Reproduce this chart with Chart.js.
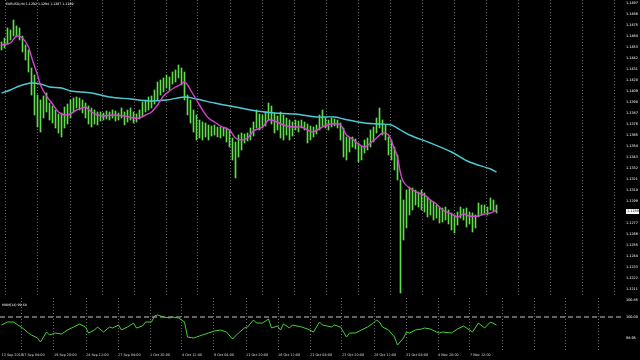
<!DOCTYPE html>
<html><head><meta charset="utf-8">
<script src="https://cdn.jsdelivr.net/npm/chart.js@4.4.0/dist/chart.umd.min.js"></script>
<style>
html,body{margin:0;padding:0;background:#000;width:640px;height:360px;overflow:hidden}
canvas{position:absolute;left:0}
#c1{top:0}
#c2{top:296px}
.lbl{position:absolute;color:#fff;font-family:"DejaVu Sans";line-height:4px;white-space:nowrap}
</style></head><body>
<canvas id="c1" width="640" height="296"></canvas>
<canvas id="c2" width="640" height="64"></canvas>
<div class="lbl" style="left:6px;top:2px;font-size:3.2px">EURUSD,H4 1.1292 1.1294 1.1287 1.1289</div>
<div class="lbl" style="left:2px;top:303px;font-size:3.2px">MOM(14) 99.60</div>
<script>
// ---- data ----
const highs = [1.1458,1.1462,1.1472,1.1470,1.1480,1.1474,1.1472,1.1464,1.1455,1.1450,
1.1432,1.1425,1.1405,1.1400,1.1404,1.1407,1.1397,1.1394,1.1390,1.1386,
1.1387,1.1393,1.1396,1.1400,1.1402,1.1403,1.1402,1.1400,1.1397,1.1394,
1.1392,1.1390,1.1388,1.1388,1.1387,1.1389,1.1388,1.1390,1.1389,1.1387,
1.1392,1.1388,1.1390,1.1392,1.1388,1.1386,1.1390,1.1398,1.1400,1.1403,
1.1404,1.1410,1.1418,1.1420,1.1422,1.1425,1.1423,1.1428,1.1430,1.1435,
1.1432,1.1428,1.1405,1.1400,1.1390,1.1385,1.1380,1.1378,1.1377,1.1375,
1.1374,1.1375,1.1373,1.1373,1.1372,1.1372,1.1370,1.1362,1.1358,1.1365,
1.1367,1.1366,1.1367,1.1372,1.1378,1.1390,1.1386,1.1385,1.1388,1.1397,
1.1394,1.1387,1.1384,1.1388,1.1385,1.1382,1.1380,1.1378,1.1380,1.1379,
1.1380,1.1378,1.1376,1.1374,1.1373,1.1375,1.1385,1.1390,1.1382,1.1380,
1.1382,1.1381,1.1380,1.1377,1.1372,1.1363,1.1362,1.1363,1.1361,1.1357,
1.1354,1.1360,1.1362,1.1370,1.1373,1.1382,1.1392,1.1380,1.1375,1.1363,
1.1360,1.1353,1.1345,1.1320,1.1300,1.1310,1.1313,1.1312,1.1310,1.1308,
1.1310,1.1307,1.1303,1.1300,1.1298,1.1295,1.1293,1.1292,1.1293,1.1290,
1.1287,1.1285,1.1288,1.1293,1.1291,1.1292,1.1288,1.1287,1.1285,1.1297,
1.1295,1.1295,1.1293,1.1302,1.1300,1.1295];
const lows = [1.1450,1.1452,1.1456,1.1460,1.1464,1.1463,1.1460,1.1448,1.1440,1.1428,
1.1405,1.1385,1.1373,1.1368,1.1382,1.1388,1.1380,1.1377,1.1372,1.1367,
1.1363,1.1372,1.1376,1.1382,1.1388,1.1392,1.1390,1.1387,1.1382,1.1376,
1.1373,1.1376,1.1375,1.1379,1.1380,1.1381,1.1380,1.1382,1.1379,1.1380,
1.1382,1.1375,1.1378,1.1380,1.1377,1.1378,1.1381,1.1383,1.1388,1.1390,
1.1392,1.1396,1.1400,1.1405,1.1408,1.1412,1.1410,1.1416,1.1418,1.1422,
1.1415,1.1400,1.1385,1.1377,1.1368,1.1360,1.1362,1.1360,1.1363,1.1360,
1.1364,1.1365,1.1363,1.1362,1.1364,1.1358,1.1353,1.1340,1.1322,1.1343,
1.1350,1.1357,1.1359,1.1360,1.1364,1.1372,1.1370,1.1372,1.1374,1.1380,
1.1376,1.1367,1.1370,1.1362,1.1360,1.1365,1.1360,1.1364,1.1370,1.1368,
1.1372,1.1370,1.1357,1.1360,1.1363,1.1366,1.1370,1.1374,1.1372,1.1370,
1.1373,1.1374,1.1372,1.1360,1.1343,1.1340,1.1348,1.1353,1.1351,1.1338,
1.1340,1.1347,1.1350,1.1353,1.1358,1.1367,1.1372,1.1365,1.1360,1.1345,
1.1340,1.1330,1.1320,1.1207,1.1260,1.1272,1.1285,1.1290,1.1295,1.1293,
1.1290,1.1288,1.1283,1.1285,1.1280,1.1282,1.1277,1.1278,1.1280,1.1276,
1.1270,1.1267,1.1275,1.1282,1.1280,1.1273,1.1276,1.1268,1.1272,1.1283,
1.1285,1.1287,1.1285,1.1290,1.1288,1.1287];

const magentaIdx = [0,3,5,7,9,10,12,13,15,17,19,21,23,25,27,28,30,32,34,37,41,44,46,48,50,52,54,56,58,60,61,62,63,65,67,69,71,73,76,78,80,82,84,87,89,91,94,97,100,102,104,107,110,113,115,117,119,121,123,125,127,129,131,132,133,134,136,139,141,143,145,147,150,152,154,156,159,161,163,165];
const magentaVal = [1.1455,1.1457,1.1464,1.1462,1.1453,1.1443,1.1425,1.1415,1.1404,1.1396,
1.1388,1.1385,1.1386,1.1390,1.1392,1.1393,1.1388,1.1385,1.1384,1.1385,
1.1384,1.1382,1.1382,1.1385,1.1388,1.1395,1.1404,1.1409,1.1413,1.1416,
1.1418,1.1415,1.1410,1.1400,1.1390,1.1382,1.1378,1.1374,1.1370,1.1362,
1.1360,1.1362,1.1369,1.1373,1.1380,1.1379,1.1375,1.1373,1.1373,1.1370,
1.1368,1.1373,1.1376,1.1375,1.1365,1.1361,1.1356,1.1353,1.1357,1.1362,
1.1367,1.1365,1.1351,1.1343,1.1327,1.1318,1.1312,1.1307,1.1305,1.1300,
1.1296,1.1290,1.1286,1.1283,1.1286,1.1284,1.1284,1.1286,1.1287,1.1290];

const cyanIdx = [0,3,6,10,13,16,20,23,30,36,43,49,55,61,65,71,78,85,91,98,105,111,114,121,126,130,133,136,143,150,156,163,165];
const cyanVal = [1.1407,1.1410,1.1414,1.1417,1.1416,1.1413,1.1412,1.1409,1.1407,1.1403,
1.1401,1.1399,1.1400,1.1403,1.1401,1.1397,1.1393,1.1389,1.1387,1.1386,
1.1383,1.1383,1.1381,1.1377,1.1376,1.1375,1.1370,1.1365,1.1357,1.1348,
1.1338,1.1331,1.1328];

const oscIdx = [0,2,4,5,7,9,10,12,13,15,16,18,20,22,24,26,28,29,31,32,34,36,37,39,40,42,44,45,47,48,50,51,52,54,56,57,59,61,62,64,65,67,69,71,73,75,77,79,81,82,84,85,87,89,90,92,93,94,96,97,100,102,104,106,107,110,111,113,115,116,118,120,122,124,125,126,127,129,131,132,134,135,136,138,140,141,143,145,146,147,150,151,152,154,156,157,159,161,163,165];
const oscVal = [99.60,99.75,99.75,99.65,99.45,99.20,99.10,98.95,98.75,99.25,
99.10,99.20,99.15,99.35,99.50,99.65,99.50,99.20,99.35,99.50,
99.25,99.50,99.45,99.60,99.35,99.50,99.70,99.45,99.55,99.75,
99.75,100.05,100.10,100.00,99.95,100.00,99.95,99.75,99.00,98.95,
99.00,99.10,99.20,99.30,99.35,99.25,98.90,99.20,99.45,99.50,
99.85,99.70,99.70,99.90,99.45,99.55,99.35,99.65,99.45,99.60,
99.50,99.40,99.25,99.75,99.60,99.50,99.60,99.50,99.00,99.20,
99.20,99.35,99.50,99.70,99.85,99.75,99.50,99.35,99.00,98.60,
98.95,99.25,99.20,99.35,99.40,99.45,99.40,99.25,99.20,99.25,
99.20,99.30,99.40,99.55,99.35,99.25,99.70,99.45,99.75,99.60];
const oscLevel = 100.00;

const priceTicks = [1.1497,1.1486,1.1475,1.1464,1.1453,1.1442,1.1431,1.1420,1.1409,1.1398,
1.1387,1.1376,1.1365,1.1354,1.1343,1.1332,1.1321,1.1310,1.1299,1.1288,
1.1277,1.1266,1.1255,1.1244,1.1233,1.1222,1.1211];
const oscTicks = [100.85,100.00,98.95];
const currentPrice = 1.1289;
const timeLabels = ["13 Sep 2019","17 Sep 04:00","19 Sep 20:00","24 Sep 12:00","27 Sep 04:00",
"1 Oct 20:00","4 Oct 12:00","9 Oct 04:00","11 Oct 20:00","16 Oct 12:00","21 Oct 04:00",
"23 Oct 20:00","28 Oct 12:00","31 Oct 04:00","4 Nov 20:00","7 Nov 12:00"];

// ---- layout constants ----
const PX = 3;               // pixels per bar
const AXIS_W = 18;          // right price axis width
const PLOT_W = 640 - AXIS_W;
const xMin = -1.5 / PX;     // bar centres fall on pixel centres
const xMax = xMin + PLOT_W / PX;
const gridIdx = [];
for (let k = 0; k < 19; k++) gridIdx.push((22 + 32 * k) / PX + xMin);
const timeTickIdx = [0, ...gridIdx];

const GRID = '#6a6a6a';
const FONT = {family: 'DejaVu Sans', size: 3.4};

const bars = highs.map((h, i) => ({x: i, y: [lows[i], h]}));
const magenta = magentaIdx.map((x, i) => ({x, y: magentaVal[i]}));
const cyan = cyanIdx.map((x, i) => ({x, y: cyanVal[i]}));
const osc = oscIdx.map((x, i) => ({x, y: oscVal[i]}));

const noPad = s => { s.paddingTop = 0; s.paddingBottom = 0; s.paddingLeft = 0; s.paddingRight = 0; };

const priceBox = {
  id: 'priceBox',
  afterDraw(chart) {
    const {ctx, chartArea, scales: {y}} = chart;
    const py = Math.round(y.getPixelForValue(currentPrice));
    ctx.save();
    ctx.fillStyle = '#fff';
    ctx.fillRect(chartArea.right + 4, py - 2, 13, 5);
    ctx.fillStyle = '#000';
    ctx.font = '3.4px "DejaVu Sans"';
    ctx.textBaseline = 'middle';
    ctx.fillText(currentPrice.toFixed(4), chartArea.right + 5, py + 0.5);
    ctx.restore();
  }
};

const xBase = {
  type: 'linear', min: xMin, max: xMax, offset: false,
  grid: {color: GRID, lineWidth: 1, drawTicks: false},
  border: {display: false, dash: [1, 2]}
};

new Chart(document.getElementById('c1'), {
  type: 'bar',
  data: {datasets: [
    {type: 'line', data: magenta, borderColor: '#d443d4', borderWidth: 1.4, pointRadius: 0, tension: 0.3, order: 0},
    {type: 'line', data: cyan, borderColor: '#4ccbd6', borderWidth: 1.4, pointRadius: 0, tension: 0.3, order: 1},
    {type: 'bar', data: bars, backgroundColor: '#62dc4c', barThickness: 1, grouped: false, order: 2}
  ]},
  options: {
    responsive: false, animation: false, events: [],
    layout: {padding: 0, autoPadding: false},
    plugins: {legend: {display: false}, tooltip: {enabled: false}},
    scales: {
      x: Object.assign({}, xBase, {
        ticks: {display: false},
        afterBuildTicks: s => { s.ticks = gridIdx.map(v => ({value: v})); },
        afterFit: s => { s.height = 0; noPad(s); }
      }),
      y: {
        position: 'right', min: 1.1204, max: 1.1500,
        grid: {display: false, drawTicks: false}, border: {display: false},
        ticks: {color: '#fff', font: FONT, padding: 4, callback: v => v.toFixed(4)},
        afterBuildTicks: s => { s.ticks = priceTicks.map(v => ({value: v})); },
        afterFit: s => { s.width = AXIS_W; noPad(s); }
      }
    }
  },
  plugins: [priceBox]
});

new Chart(document.getElementById('c2'), {
  type: 'line',
  data: {datasets: [
    {data: osc, borderColor: '#45d236', borderWidth: 1, pointRadius: 0, order: 0},
    {data: [{x: xMin, y: oscLevel}, {x: xMax, y: oscLevel}], borderColor: '#c8c8c8', borderWidth: 1, borderDash: [5, 3], pointRadius: 0, order: 1}
  ]},
  options: {
    responsive: false, animation: false, events: [],
    layout: {padding: {top: 2, left: 0, right: 0, bottom: 0}, autoPadding: false},
    plugins: {legend: {display: false}, tooltip: {enabled: false}},
    scales: {
      x: Object.assign({}, xBase, {
        grid: {color: c => c.index === 0 ? 'rgba(0,0,0,0)' : GRID, lineWidth: 1, drawTicks: false},
        ticks: {display: true, color: '#ddd', font: FONT, padding: 3, align: 'start', autoSkip: false, maxRotation: 0, minRotation: 0,
                callback: (v, i) => timeLabels[i] || ''},
        afterBuildTicks: s => { s.ticks = timeTickIdx.map(v => ({value: v})); },
        afterFit: s => { s.height = 10; noPad(s); }
      }),
      y: {
        position: 'right', min: 98.35, max: 100.95,
        grid: {display: false, drawTicks: false}, border: {display: false},
        ticks: {color: '#fff', font: FONT, padding: 4, callback: v => v.toFixed(2)},
        afterBuildTicks: s => { s.ticks = oscTicks.map(v => ({value: v})); },
        afterFit: s => { s.width = AXIS_W; noPad(s); }
      }
    }
  }
});
</script>
</body></html>
